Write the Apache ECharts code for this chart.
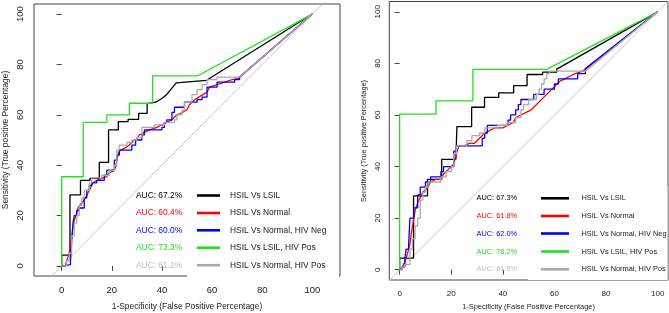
<!DOCTYPE html>
<html><head><meta charset="utf-8">
<script src="https://cdn.jsdelivr.net/npm/echarts@6/dist/echarts.min.js"></script>
<style>html,body{margin:0;padding:0;background:#fff}#c{width:669px;height:313px}</style>
</head><body><div id="c"></div>
<script>
// ---- data (percent) ----
const tickValues = [0, 20, 40, 60, 80, 100];
const xTitle = '1-Specificity (False Positive Percentage)';
const yTitle = 'Sensitivity (True positive Percentage)';
const seriesNames = ['HSIL Vs LSIL', 'HSIL Vs Normal', 'HSIL Vs Normal, HIV Neg', 'HSIL Vs LSIL, HIV Pos', 'HSIL Vs Normal, HIV Pos'];
const aucLeft = ['AUC: 67.2%', 'AUC: 60.4%', 'AUC: 60.0%', 'AUC: 73.3%', 'AUC: 61.2%'];
const aucRight = ['AUC: 67.3%', 'AUC: 61.8%', 'AUC: 62.0%', 'AUC: 78.2%', 'AUC: 61.9%'];
const identity = [[-4, -4], [104, 104]];

// left panel curves [1-specificity, sensitivity]
const leftLSIL = [[0,0],[0,4.3],[3.3,4.3],[3.3,28.2],[7.5,28.2],[7.5,34],[11.3,34],[11.3,34.8],[15,34.8],[15,41.1],[18.7,41.1],[18.7,54],[22.6,54],[22.6,57.3],[26.5,57.3],[26.5,58.2],[30.7,58.2],[30.7,60.6],[34.1,60.6],[34.1,64.4],[37.5,65],[40,66.5],[42,68.2],[43.5,70],[45.7,72.7],[57.8,73.7],[100,100]];
const leftNormal = [[0,0],[1.5,0],[2,2],[3,5],[3.5,8],[4,11],[4.5,15],[5,18],[6,21],[6.5,23],[7.5,24.5],[8.5,25.5],[9.5,27],[10.5,29],[11.5,31],[12.5,33],[14,34],[16,34.8],[18,35.5],[19,37],[20.5,37.5],[21.5,39],[22,42],[22.7,45],[23.5,46],[25.5,47],[27,48],[28.5,49.5],[30,50.5],[31,52],[33,53],[35,54],[38,55],[40,56],[42,57],[44,58],[46,60],[48,60.8],[50,62],[51,64],[53,66],[55.5,67.5],[58,69],[59,71],[62,72],[65,73],[68,74],[70.5,74.5],[100,100]];
const leftHivNeg = [[0,0],[1,0],[1,0.5],[3.5,0.5],[3.5,2],[4,2],[4,10],[4.5,10],[4.5,17],[5,17],[5,20],[6,20],[6,22],[7,22],[7,23],[9,23],[9,27],[10,27],[10,30],[11,30],[11,32],[12,32],[12,33],[14,33],[14,34],[17,34],[17,36],[18,36],[18,38],[20,38],[20,38.5],[21,38.5],[21,42],[22,42],[22,44],[23,44],[23,46],[28,46],[28,48],[29.5,48],[29.5,50],[32,50],[32,52],[33,52],[33,54],[40,54],[40,55],[41,55],[41,57],[42,57],[42,58],[44,58],[44,61],[45,61],[45,63],[49,63],[49,65],[54,65],[54,66],[56,66],[56,67],[58,67],[58,71],[62,71],[62,73],[69,73],[69,74],[71,74],[71,75],[100,100]];
const leftLSILPos = [[0,0],[0,35.4],[8.6,35.4],[8.6,57],[18,57],[18,60],[27,60],[27,64.6],[36.3,64.6],[36.3,75.5],[54.3,75.5],[100,100]];
const leftHivPos = [[0,0],[2,0],[2,2],[3,2],[3,5],[4,5],[4,12],[5,12],[5,17],[6,17],[6,20],[7,20],[7,24],[8,24],[8,27],[9,27],[9,30],[11,30],[11,33],[12,33],[12,35],[16,35],[16,36],[19,36],[19,38],[21,38],[21,40],[22,40],[22,46],[23,46],[23,48],[26,48],[26,49],[28,49],[28,50],[30,50],[30,51],[32,51],[32,55],[37,55],[37,56],[41,56],[41,57],[45,57],[45,58],[46,58],[46,60],[48,60],[48,62],[49,62],[49,65],[52,65],[52,68],[54,68],[54,70],[56,70],[56,72],[58,72],[58,74],[62,74],[62,75],[71,75],[100,100]];

// right panel curves
const rightLSIL = [[0,0],[0,4.5],[5.4,4.5],[5.4,28.6],[10.8,28.6],[10.8,35],[16.3,35],[16.3,42.8],[21.8,42.8],[21.8,43.5],[22.2,43.5],[22.2,55.5],[27.9,55.5],[27.9,63],[32.9,63],[32.9,66.8],[38.4,66.8],[38.4,68.6],[44.2,68.6],[44.2,71.4],[49.4,71.4],[49.4,75.7],[55.4,75.7],[55.4,76.6],[60.9,76.6],[60.9,77.8],[100,100]];
const rightNormal = [[0,0],[1,1],[2,3],[3,6],[4,10],[4.5,14],[5,17],[5.5,20],[6,23],[7,26],[8,28],[9,30],[10,31],[11,32],[12,34],[14,35],[16,35],[17,37],[18,38],[19,39],[20,40],[21,41],[22,45],[23,48],[25,48],[27,49],[29,49],[30,50],[31,51],[33,53],[35,54],[37,55],[40,55],[42,56],[44,57],[45,59],[47,60],[49,61],[51,62],[52,63],[54,65],[56,67],[58,69],[60,71],[62,73],[64,74],[66,75],[68,76],[71,77],[100,100]];
const rightHivNeg = [[0,0],[1,0],[1,1],[2,1],[2,4],[2.5,4],[2.5,8],[3.5,8],[3.5,10],[4,10],[4,20],[5.5,20],[5.5,24],[7,24],[7,29],[8,29],[8,32],[10,32],[10,34],[12,34],[12,36],[16,36],[16,38],[17,38],[17,40],[21,40],[21,46],[22,46],[22,48],[32,48],[32,51],[33,51],[33,53],[34,53],[34,56],[42,56],[42,58],[43,58],[43,60],[45,60],[45,62],[46,62],[46,64],[47,64],[47,66],[52,66],[52,68],[56,68],[56,70],[60,70],[60,72],[61.5,72],[61.5,74],[69,74],[69,76],[72,76],[72,78],[100,100]];
const rightLSILPos = [[0,0],[0,60.3],[14.1,60.3],[14.1,65.5],[28.4,65.5],[28.4,77.7],[57,77.7],[100,100]];
const rightHivPos = [[0,0],[1,0],[1,1],[2,1],[2,2],[4,2],[4,8],[5,8],[5,12],[6,12],[6,17],[7,17],[7,20],[8,20],[8,27],[9,27],[9,30],[10,30],[10,32],[11,32],[11,34],[16,34],[16,36],[18,36],[18,38],[20,38],[20,40],[21,40],[21,45],[22,45],[22,48],[26,48],[26,50],[28,50],[28,52],[31,52],[31,53],[33,53],[33,55],[38,55],[38,56],[42,56],[42,57],[45,57],[45,59],[47,59],[47,62],[48,62],[48,64],[50,64],[50,66],[53,66],[53,68],[54,68],[54,70],[55,70],[55,72],[56,72],[56,74],[57,74],[57,76],[58,76],[58,77],[72,77],[100,100]];

const leftCurves = [leftLSIL, leftNormal, leftHivNeg, leftLSILPos, leftHivPos];
const rightCurves = [rightLSIL, rightNormal, rightHivNeg, rightLSILPos, rightHivPos];

// ---- styles ----
const lineColors = ['#000000', '#ff0000', '#0000ff', '#22e022', '#aaaaaa'];
const textColors = ['#000000', '#ff0000', '#0000ff', '#22e022', '#bdbdbd'];
const FONT = '"Liberation Sans", Arial, Helvetica, sans-serif';
const AX = '#444';

const chart = echarts.init(document.getElementById('c'), null, {renderer: 'canvas'});

function xAx(idx, min, max, fs, lm) {
  return {
    type: 'value', gridIndex: idx, min: min, max: max,
    axisLine: {show: false}, splitLine: {show: false},
    axisTick: {show: true, length: 5, customValues: tickValues, lineStyle: {color: AX}},
    axisLabel: {show: true, customValues: tickValues, showMinLabel: true, showMaxLabel: true, hideOverlap: false,
      align: 'center', verticalAlign: 'top', margin: lm, fontFamily: FONT, fontSize: fs, color: '#222'}
  };
}
function yAx(idx, fs, lm) {
  return {
    type: 'value', gridIndex: idx, min: -4, max: 104,
    axisLine: {show: false}, splitLine: {show: false},
    axisTick: {show: true, length: 5, customValues: tickValues, lineStyle: {color: AX}},
    axisLabel: {show: true, customValues: tickValues, showMinLabel: true, showMaxLabel: true, hideOverlap: false,
      rotate: 90, align: 'center', verticalAlign: 'bottom', margin: lm, fontFamily: FONT, fontSize: fs, color: '#222'}
  };
}

const series = [];
function addPanel(idx, curves) {
  series.push({type: 'line', xAxisIndex: idx, yAxisIndex: idx, data: identity, symbol: 'none', silent: true,
    lineStyle: {color: '#c8c8c8', width: 1}, z: 1});
  curves.forEach((c, i) => {
    series.push({type: 'line', name: seriesNames[i], xAxisIndex: idx, yAxisIndex: idx, data: c,
      symbol: 'none', silent: true, lineStyle: {color: lineColors[i], width: 1.3}, z: 2 + i});
  });
}
addPanel(0, leftCurves);
addPanel(1, rightCurves);

// legend / AUC annotations and axis titles
const graphic = [];
function addLegend(box, aucX, lineX0, lineX1, labX, ys, fs, aucTexts) {
  graphic.push({type: 'rect', z: 50, shape: box, style: {fill: '#fff'}});
  ys.forEach((y, i) => {
    graphic.push({type: 'text', z: 51, x: aucX, y: y, style: {text: aucTexts[i], fill: textColors[i], font: fs + 'px ' + FONT, verticalAlign: 'middle'}});
    graphic.push({type: 'line', z: 51, shape: {x1: lineX0, y1: y, x2: lineX1, y2: y}, style: {stroke: lineColors[i], lineWidth: 2.6}});
    graphic.push({type: 'text', z: 51, x: labX, y: y, style: {text: seriesNames[i], fill: '#222', font: fs + 'px ' + FONT, verticalAlign: 'middle'}});
  });
}
function addTitles(xc, xy, yx, yc, fs) {
  graphic.push({type: 'text', z: 51, x: xc, y: xy, style: {text: xTitle, fill: '#222', font: fs + 'px ' + FONT, align: 'center', verticalAlign: 'middle'}});
  graphic.push({type: 'text', z: 51, x: yx, y: yc, rotation: Math.PI / 2, style: {text: yTitle, fill: '#222', font: fs + 'px ' + FONT, align: 'center', verticalAlign: 'middle'}});
}
addLegend({x: 187, y: 182, width: 152, height: 95.5}, 136, 197, 220, 230, [195.5, 213, 230.3, 247.7, 265.2], 8.4, aucLeft);
addLegend({x: 528, y: 186, width: 139.5, height: 94}, 476.5, 541, 569, 581.5, [198.3, 216, 233.5, 251.5, 269.3], 7.4, aucRight);
addTitles(187, 306.5, 5.5, 140, 8.4);
addTitles(528.5, 307, 363.5, 141, 7.4);

chart.setOption({
  animation: false,
  backgroundColor: '#fff',
  grid: [
    {left: 34, top: 4, width: 306, height: 272, show: true, borderColor: AX, borderWidth: 1, containLabel: false},
    {left: 389.3, top: 1.5, width: 278.7, height: 278.5, show: true, borderColor: AX, borderWidth: 1, containLabel: false}
  ],
  xAxis: [xAx(0, -11.05, 111.05, 9.5, 9.5), xAx(1, -4, 104, 8, 9.5)],
  yAxis: [yAx(0, 9.5, 9), yAx(1, 8, 8)],
  series: series,
  graphic: graphic
});
</script>
</body></html>
